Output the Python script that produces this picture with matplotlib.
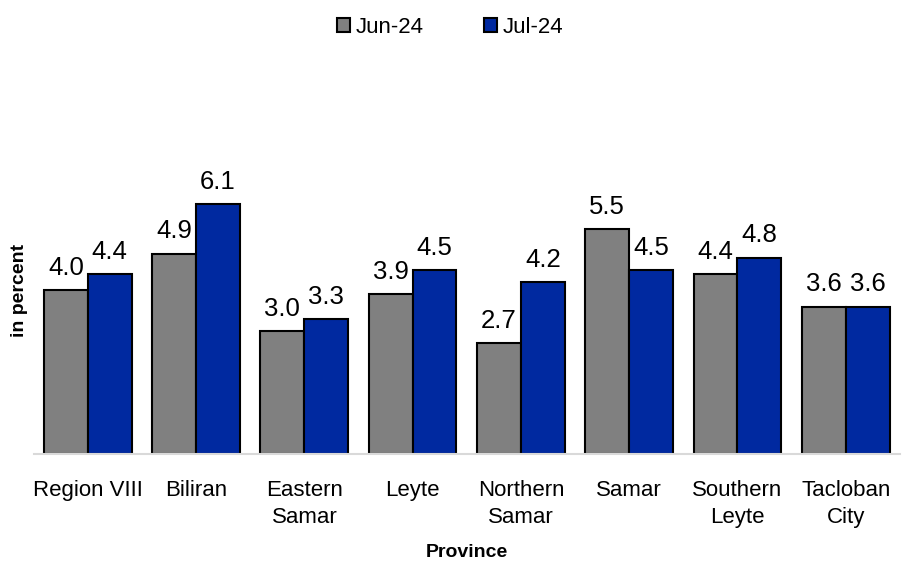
import matplotlib
matplotlib.use("Agg")
import matplotlib.pyplot as plt
import numpy as np

plt.rcParams.update({
    "font.family": ["Liberation Sans", "DejaVu Sans"],
})

provinces = ["Region VIII", "Biliran", "Eastern\nSamar", "Leyte", "Northern\nSamar",
             "Samar", "Southern\nLeyte", "Tacloban\nCity"]
jun24 = [4.0, 4.9, 3.0, 3.9, 2.7, 5.5, 4.4, 3.6]
jul24 = [4.4, 6.1, 3.3, 4.5, 4.2, 4.5, 4.8, 3.6]
series_names = ["Jun-24", "Jul-24"]
colors = ["#808080", "#0029A0"]

fig = plt.figure(figsize=(9.09, 5.61), dpi=100)
ax = fig.add_axes([0.037, 0.191, 0.953, 0.583])

x = np.arange(len(provinces))
w = 0.405
for k, (vals, name, c) in enumerate(zip([jun24, jul24], series_names, colors)):
    off = (k - 0.5) * w
    bars = ax.bar(x + off, vals, w, color=c, edgecolor="black", linewidth=1.5,
                  label=name, zorder=2)
    for b, v in zip(bars, vals):
        ax.text(b.get_x() + b.get_width() / 2, v + 0.25, f"{v:.1f}",
                ha="center", va="bottom", fontsize=18.5)

ax.set_xlim(-0.5, len(provinces) - 0.5)
ax.set_ylim(0, 8)
ax.set_yticks([])
ax.set_xticks(x)
ax.set_xticklabels(provinces, fontsize=16, linespacing=1.38)
ax.tick_params(axis="x", length=0, pad=19)
for s in ["top", "right", "left"]:
    ax.spines[s].set_visible(False)
ax.spines["bottom"].set_color("#D9D9D9")
ax.spines["bottom"].set_linewidth(1.5)

ax.set_xlabel("Province", fontsize=14, fontweight="bold", labelpad=11)
ax.set_ylabel("in percent", fontsize=14, fontweight="bold", labelpad=4)

fig.legend(loc="upper center", bbox_to_anchor=(0.495, 1.005), ncol=2, frameon=False,
           fontsize=16, handlelength=0.6, handleheight=0.6, handletextpad=0.25,
           columnspacing=2.7)

fig.savefig("out.png", dpi=100)
